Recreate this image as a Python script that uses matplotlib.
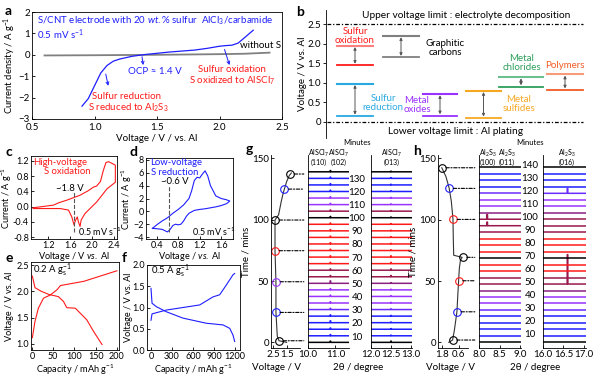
import numpy as np
import matplotlib
matplotlib.use('Agg')
import matplotlib.pyplot as plt
from matplotlib.patches import ConnectionPatch
from matplotlib.transforms import blended_transform_factory as btf

plt.rcParams['font.family'] = ['Lato', 'DejaVu Sans']
plt.rcParams['font.size'] = 7
plt.rcParams['mathtext.fontset'] = 'custom'
plt.rcParams['mathtext.rm'] = 'Lato'
plt.rcParams['mathtext.it'] = 'Lato:italic'
plt.rcParams['mathtext.bf'] = 'Lato:bold'
plt.rcParams['axes.linewidth'] = 0.6
plt.rcParams['axes.labelsize'] = 6.6
for ax_ in ('xtick', 'ytick'):
    plt.rcParams[ax_ + '.major.width'] = 0.6
    plt.rcParams[ax_ + '.major.size'] = 2
    plt.rcParams[ax_ + '.direction'] = 'in'
    plt.rcParams[ax_ + '.major.pad'] = 1.5
    plt.rcParams[ax_ + '.labelsize'] = 6.5

# ---------------- data ----------------
# (a) linear sweep
a_v = [0.9, 0.95, 1.0, 1.05, 1.1, 1.15, 1.2, 1.3, 1.4, 1.6, 1.8, 1.9, 2.0, 2.05, 2.1, 2.15, 2.2, 2.27]
a_i = [-2.4, -2.05, -1.45, -0.85, -0.5, -0.3, -0.2, -0.07, 0.01, 0.13, 0.22, 0.3, 0.4, 0.43, 0.45, 0.55, 0.8, 1.15]
a_bare_v = [0.6, 1.0, 1.5, 2.0, 2.2, 2.4]
a_bare_i = [-0.03, -0.02, 0.0, 0.03, 0.05, 0.1]

# (b) voltage windows
b_names = ['Sulfur\noxidation', 'Sulfur\nreduction', 'Graphitic\ncarbons', 'Metal\noxides',
           'Metal\nsulfides', 'Metal\nchlorides', 'Polymers']
b_upper = [1.95, 0.98, 2.2, 0.72, 0.8, 1.15, 1.22]
b_lower = [1.45, 0.15, 1.65, 0.16, 0.1, 0.9, 0.82]
b_colors = ['#FF1A1A', '#29A9E1', '#808080', '#9B30FF', '#F7A823', '#2E9E5B', '#F15A24']
b_upper_colors = ['#FF7F7F', '#29A9E1', '#808080', '#9B30FF', '#F7A823', '#6CC08E', '#F79A7A']

# (c) high-voltage CV
c_v = [0.93, 1.3, 1.39, 1.54, 1.78, 1.93, 2.02, 2.08, 2.15, 2.2, 2.25, 2.3, 2.42,
       2.42, 2.27, 2.08, 1.96, 1.87, 1.8, 1.78, 1.75, 1.73, 1.7, 1.67, 1.63, 1.57, 1.42, 1.2, 0.93]
c_i = [-0.03, 0.04, 0.1, 0.17, 0.3, 0.42, 0.51, 0.54, 0.66, 0.94, 1.16, 1.18, 1.09,
       0.64, 0.47, 0.12, -0.05, -0.18, -0.35, -0.52, -0.4, -0.27, -0.35, -0.48, -0.27, -0.09, -0.05, -0.05, -0.05]

# (d) low-voltage CV
d_v = [0.32, 0.4, 0.5, 0.6, 0.7, 0.8, 0.9, 1.0, 1.05, 1.1, 1.15, 1.2, 1.25, 1.3, 1.35, 1.4, 1.5, 1.6, 1.7, 1.76,
       1.7, 1.6, 1.5, 1.4, 1.3, 1.2, 1.1, 1.0, 0.95, 0.9, 0.85, 0.8, 0.75, 0.7, 0.65, 0.6, 0.55, 0.5, 0.45, 0.4, 0.32]
d_i = [-2.65, -2.1, -1.5, -1.0, -0.3, 0.3, 1.0, 2.0, 3.2, 4.8, 5.3, 5.2, 5.8, 6.3, 5.5, 4.0, 2.4, 2.0, 1.8, 1.6,
       1.2, 0.9, 0.7, 0.55, 0.4, 0.3, 0.15, -0.3, -0.8, -1.5, -2.0, -2.1, -2.0, -2.2, -2.8, -3.2, -3.0, -2.8, -2.75, -2.7, -2.65]

# (e) 0.2 A/g charge / discharge
e_dis_c = [0.8, 7, 22, 40, 62, 74, 82, 102, 129, 145, 165]
e_dis_v = [2.29, 2.07, 2.0, 1.94, 1.9, 1.81, 1.69, 1.68, 1.46, 1.24, 0.99]
e_chg_c = [0.8, 7, 15, 27, 43, 59, 67, 122, 200]
e_chg_v = [1.12, 1.43, 1.68, 1.87, 1.93, 2.03, 2.11, 2.19, 2.39]

# (f) 0.5 A/g charge / discharge
f_dis_c = [0, 15, 76, 219, 457, 790, 1029, 1124, 1171, 1195]
f_dis_v = [1.45, 1.1, 1.02, 0.9, 0.75, 0.63, 0.59, 0.51, 0.35, 0.2]
f_chg_c = [0, 15, 219, 695, 886, 981, 1076, 1171, 1195]
f_chg_v = [0.7, 0.85, 0.94, 1.06, 1.25, 1.3, 1.53, 1.77, 1.8]

# (g) in-situ XRD, charge to high voltage (27 scans, bottom -> top)
g_t = [0, 1.3, 5, 24.4, 49.4, 74.7, 99.7, 104, 115, 122, 124.9, 131, 136, 138]
g_v = [1.5, 2.07, 2.2, 2.3, 2.3, 2.37, 2.37, 2.1, 1.9, 1.75, 1.67, 1.5, 1.3, 1.15]
g_mark_t = [1.3, 24.4, 49.4, 74.7, 99.7, 124.9, 137.2]
g_mark_v = [2.07, 2.3, 2.3, 2.37, 2.37, 1.67, 1.24]
g_mark_c = ['k', 'b', 'p', 'r', 'k', 'b', 'k']
g_trace_c = ['k', 'b', 'b', 'b', 'b', 'v', 'p', 'p', 'p', 'q', 'm', 'm', 'r', 'r',
             'r', 'r', 'r', 'r', 'r', 'k', 'm', 'p', 'p', 'b', 'b', 'b', 'k']
g_pk1 = [1, 1, 1, 1.5, 1, 1, 1, 1, 1, 2, 1, 1, 1, 1, 1, 1, 1, 1, 1, 1, 1, 1, 1, 1, 1, 1, 1]
g_pk2 = [1, 0.5, 0.5, 0.5, 0.5, 0.5, 0.5, 0.5, 0.5, 0.5, 1, 1, 1, 1, 0.5, 0.5, 0.5, 0.5, 0.5, 0.5, 0.5, 0.5, 0.5, 0.5, 0.5, 0.5, 0.5]
minutes = [10, 20, 30, 40, 50, 60, 70, 80, 90, 100, 110, 120, 130]

# (h) in-situ XRD, discharge to low voltage (28 scans, bottom -> top)
h_t = [0, 1.9, 10, 24.9, 40, 50.2, 60, 67, 69.3, 71, 85, 100.2, 115, 125.5, 135, 142.3]
h_v = [1.3, 1.03, 0.9, 0.72, 0.65, 0.6, 0.55, 0.47, 0.35, 0.95, 0.98, 1.0, 1.12, 1.27, 1.5, 1.8]
h_mark_t = [1.9, 24.9, 50.2, 69.3, 100.2, 125.5, 142.3]
h_mark_v = [1.03, 0.72, 0.6, 0.31, 1.0, 1.27, 1.8]
h_mark_c = ['k', 'b', 'r', 'k', 'r', 'b', 'k']
h_trace_c = ['k', 'b', 'b', 'b', 'b', 'v', 'p', 'p', 'q', 'm', 'm', 'r', 'r', 'k',
             'r', 'r', 'r', 'm', 'm', 'm', 'q', 'p', 'p', 'v', 'b', 'b', 'b', 'k']
h_pk1 = [0, 0, 0, 0, 0, 0, 0, 0, 0, 0, 0, 0, 0, 0, 0, 0, 0, 0, 3, 4, 0, 0, 0, 0, 0, 0, 0, 0]
h_pk2 = [0, 0, 0, 0, 0, 0, 0, 0, 0, 24, 0, 0, 0, 0, 0, 0, 0, 0, 0, 0, 0, 0, 0, 4, 0, 0, 0, 0]
minutes_h = [10, 20, 30, 40, 50, 60, 70, 80, 90, 100, 110, 120, 130, 140]

cmap = {'k': '#000000', 'b': '#1E1EFF', 'v': '#6A2BFF', 'p': '#9933FF', 'q': '#8A2080',
        'm': '#99194D', 'r': '#FF1A1A'}

# ---------------- layout ----------------
W, H = 600, 382
fig = plt.figure(figsize=(6, 3.82), dpi=100)


def add_ax(x0, y0, x1, y1):
    return fig.add_axes([x0 / W, 1 - y1 / H, (x1 - x0) / W, (y1 - y0) / H])


def letter(x, y, s):
    fig.text(x / W, 1 - y / H, s, fontsize=10, fontweight='bold', va='center', ha='left')


def ylab_at(ax_, xpx):
    # right edge of the rotated y label at a given figure pixel column
    ax_.yaxis.set_label_coords(xpx / W, 0.5, transform=btf(fig.transFigure, ax_.transAxes))


BLUE = '#1E1EFF'
RED = '#FF1A1A'

# ---------------- (a) ----------------
ax = add_ax(32, 12, 282, 119)
ax.plot(a_bare_v, a_bare_i, color='#808080', lw=1.3)
ax.plot(a_v, a_i, color=BLUE, lw=0.9)
ax.set_xlim(0.5, 2.5)
ax.set_ylim(-3, 2)
ax.set_xticks([0.5, 1.0, 1.5, 2.0, 2.5])
ax.set_xticklabels(['0.5', '1.0', '1.5', '2.0', '2.5'])
ax.set_yticks([-3, -2, -1, 0, 1, 2])
ax.tick_params(labelsize=7)
ax.tick_params(axis='x', pad=3)
ax.set_xlabel('Voltage / V / vs. Al', labelpad=1, fontsize=7)
ax.set_ylabel('Current density / A g$^{-1}$', fontsize=6.8)
ylab_at(ax, 18)
ax.text(0.54, 1.58, 'S/CNT electrode with 20 $\\it{wt.}$% sulfur  AlCl$_3$/carbamide', color=BLUE, va='center')
ax.text(0.54, 0.95, '0.5 mV s$^{-1}$', color=BLUE, va='center')
ax.text(1.487, -0.79, 'OCP ≈ 1.4 V', color=BLUE, va='center', ha='center')
ax.text(2.16, 0.45, 'without S', color='black', va='center')
ax.text(2.1, -0.71, 'Sulfur oxidation', color=RED, ha='center', va='center')
ax.text(2.1, -1.22, 'S oxidized to AlSCl$_7$', color=RED, ha='center', va='center')
ax.text(1.26, -1.95, 'Sulfur reduction', color=RED, ha='center', va='center')
ax.text(1.27, -2.49, 'S reduced to Al$_2$S$_3$', color=RED, ha='center', va='center')
for (x0, y0, x1, y1) in [(1.09, -0.9, 1.11, -1.45), (1.38, -0.09, 1.39, -0.48), (2.04, 0.25, 2.08, -0.48)]:
    ax.annotate('', xy=(x1, y1), xytext=(x0, y0),
                arrowprops=dict(arrowstyle='->', color=BLUE, lw=0.7, shrinkA=0, shrinkB=0, mutation_scale=5))
letter(5, 11, 'a')

# ---------------- (b) ----------------
axb = add_ax(326, 10, 600, 138)
axb.set_xlim(326, 600)
axb.set_ylim(-0.41, 2.86)
for s in ('top', 'right', 'bottom'):
    axb.spines[s].set_visible(False)
axb.set_xticks([])
axb.set_yticks([0, 0.5, 1.0, 1.5, 2.0, 2.5])
axb.set_yticklabels(['0', '0.5', '1.0', '1.5', '2.0', '2.5'])
axb.tick_params(axis='y', direction='out', labelsize=7)
axb.set_ylabel('Voltage / V vs. Al', fontsize=7)
ylab_at(axb, 307)
axb.plot([327, 583], [2.5, 2.5], color='black', ls=(0, (3, 1.5, 1, 1.5)), lw=0.9)
axb.plot([327, 583], [0, 0], color='black', ls=(0, (3, 1.5, 1, 1.5)), lw=0.9)
axb.text(466, 2.73, 'Upper voltage limit : electrolyte decomposition', ha='center', va='center', fontsize=7.3)
axb.text(455, -0.25, 'Lower voltage limit : Al plating', ha='center', va='center', fontsize=7.3)
b_x0 = [337, 337, 383, 423, 466, 499, 547]
b_x1 = [373, 373, 419, 457, 501, 543, 583]
b_tx = [355, 383, 445, 417, 519, 522, 565]
b_ty = [2.2, 0.49, 1.9, 0.43, 0.45, 1.5, 1.45]
for k in range(len(b_names)):
    col = b_colors[k]
    axb.plot([b_x0[k], b_x1[k]], [b_upper[k]] * 2, color=b_upper_colors[k], lw=1.5)
    axb.plot([b_x0[k], b_x1[k]], [b_lower[k]] * 2, color=col, lw=1.3)
    xm = (b_x0[k] + b_x1[k]) / 2
    axb.annotate('', xy=(xm, b_lower[k]), xytext=(xm, b_upper[k]),
                 arrowprops=dict(arrowstyle='<|-|>', color='#555555', lw=0.7, shrinkA=1, shrinkB=1,
                                 mutation_scale=4))
    axb.text(b_tx[k], b_ty[k], b_names[k], color=col if k != 2 else 'black', ha='center', va='center',
             fontsize=7.0, linespacing=1.0)
letter(296, 12, 'b')

# ---------------- (c) ----------------
axc = add_ax(31, 156, 117, 239)
axc.plot(c_v, c_i, color=RED, lw=0.8)
axc.set_xlim(0.89, 2.45)
axc.set_ylim(-0.85, 1.33)
axc.set_xticks([1.2, 1.6, 2.0, 2.4])
axc.set_yticks([-0.8, -0.4, 0.0, 0.4, 0.8, 1.2])
axc.set_yticklabels(['-0.8', '-0.4', '0.0', '0.4', '0.8', '1.2'])
axc.plot([1.67, 1.67], [-0.67, 0.38], color='#555555', ls='--', lw=0.8)
axc.text(1.59, 0.48, '~1.8 V', ha='center', va='center', fontsize=6.8)
axc.text(0.93, 1.17, 'High-voltage', color=RED, va='center', fontsize=6.8)
axc.text(1.13, 0.91, 'S oxidation', color=RED, va='center', fontsize=6.8)
axc.text(2.13, -0.67, '0.5 mV s$^{-1}$', ha='center', va='center', fontsize=6.5)
axc.set_xlabel('Voltage / V $\\it{vs.}$ Al', labelpad=0)
axc.set_ylabel('Current / A g$^{-1}$')
ylab_at(axc, 14)
letter(5, 152, 'c')

# ---------------- (d) ----------------
axd = add_ax(146, 158, 233, 239)
axd.plot(d_v, d_i, color=BLUE, lw=0.8)
axd.set_xlim(0.2, 1.82)
axd.set_ylim(-4.3, 8.3)
axd.set_xticks([0.4, 0.8, 1.2, 1.6])
axd.set_yticks([-4, -2, 0, 2, 4, 6, 8])
axd.plot([0.62, 0.62], [-3.2, 4.0], color='#555555', ls='--', lw=0.8)
axd.text(0.73, 4.6, '~0.6 V', ha='center', va='center', fontsize=6.8)
axd.text(0.27, 7.6, 'Low-voltage', color=BLUE, va='center', fontsize=6.8)
axd.text(0.3, 6.0, 'S reduction', color=BLUE, va='center', fontsize=6.8)
axd.text(1.46, -3.2, '0.5 mV s$^{-1}$', ha='center', va='center', fontsize=6.5)
axd.set_xlabel('Voltage / $\\it{vs.}$ Al', labelpad=0)
axd.set_ylabel('Current / A g$^{-1}$')
ylab_at(axd, 134)
letter(130, 152, 'd')

# ---------------- (e) ----------------
axe = add_ax(31, 262, 119, 350)
axe.plot(e_dis_c, e_dis_v, color=RED, lw=0.8)
axe.plot(e_chg_c, e_chg_v, color=RED, lw=0.8)
axe.set_xlim(-2.4, 205)
axe.set_ylim(0.886, 2.557)
axe.set_xticks([0, 50, 100, 150, 200])
axe.set_yticks([1.0, 1.5, 2.0, 2.5])
axe.text(2, 2.4, '0.2 A g$^{-1}_{\\rm s}$', va='center', fontsize=6.8)
axe.set_xlabel('Capacity / mAh g$^{-1}$', labelpad=1)
axe.set_ylabel('Voltage / V vs. Al')
ylab_at(axe, 14)
letter(5, 258, 'e')

# ---------------- (f) ----------------
axf = add_ax(147, 265, 240, 350)
axf.plot(f_dis_c, f_dis_v, color=BLUE, lw=0.8)
axf.plot(f_chg_c, f_chg_v, color=BLUE, lw=0.8)
axf.set_xlim(-57, 1271)
axf.set_ylim(0, 2.0)
axf.set_xticks([0, 300, 600, 900, 1200])
axf.set_yticks([0.0, 0.5, 1.0, 1.5, 2.0])
axf.text(0, 1.86, '0.5 A g$^{-1}_{\\rm s}$', va='center', fontsize=6.8)
axf.set_xlabel('Capacity / mAh g$^{-1}$', labelpad=1)
axf.set_ylabel('Voltage / V vs. Al')
ylab_at(axf, 133)
letter(122, 258, 'f')


# ---------------- (g) & (h) ----------------
def insitu(tx0, tx1, vlim, vt, tt, tv, mt, mv, mc, xr1, xr2, lim1, lim2, ticks1, ticks2,
           tr_c, tr_top, pk1, pk1x, pk2, pk2x, mins, lab_a, lab_b, minx, labels1, labels2, xl_center):
    y0, y1 = 155, 348
    ylim = (-4.6, 152.7)
    at = add_ax(tx0, y0, tx1, y1)
    at.plot(tv, tt, color='#333333', lw=0.8)
    for t_, v_, c_ in zip(mt, mv, mc):
        at.plot(v_, t_, 'o', ms=5.5, mfc='none', mec=cmap[c_], mew=0.8)
    at.set_xlim(*vlim)
    at.set_ylim(*ylim)
    at.set_xticks(vt)
    at.set_yticks([0, 50, 100, 150])
    at.tick_params(labelsize=7)
    at.spines['top'].set_visible(False)
    at.spines['right'].set_visible(False)
    at.set_ylabel('Time / mins', labelpad=1, fontsize=7)
    fig.text(xl_center[0] / W, 1 - 368 / H, 'Voltage / V', ha='center', va='center')
    axes_x = []
    n = len(tr_c)
    spacing = tr_top / (n - 1)
    for (x0, x1), lim, ticks, pk, pkx in [(xr1, lim1, ticks1, pk1, pk1x), (xr2, lim2, ticks2, pk2, pk2x)]:
        ax_ = add_ax(x0, y0, x1, y1)
        ax_.set_xlim(*lim)
        ax_.set_ylim(*ylim)
        ax_.set_yticks([])
        ax_.set_xticks(ticks)
        ax_.set_xticklabels([f'{v:.1f}' for v in ticks])
        ax_.tick_params(labelsize=7)
        ax_.spines['top'].set_visible(False)
        ax_.spines['right'].set_visible(False)
        xs = np.linspace(lim[0], lim[1], 300)
        for i in range(n):
            base = i * spacing
            prof = np.where(np.abs(xs - pkx) < (lim[1] - lim[0]) / 150, pk[i], 0.0)
            ax_.plot(xs, base + prof, color=cmap[tr_c[i]], lw=1.1)
        axes_x.append(ax_)
    for t_, v_ in zip(mt, mv):
        con = ConnectionPatch(xyA=(v_, t_), coordsA=at.transData,
                              xyB=(lim1[0], t_), coordsB=axes_x[0].transData,
                              ls=(0, (3, 1.5, 1, 1.5)), lw=0.8, color='black', shrinkA=3, shrinkB=3)
        fig.add_artist(con)
    tr = btf(fig.transFigure, axes_x[0].transData)
    for m in mins:
        axes_x[0].text(minx / W, lab_a + (m - 10) * lab_b, str(m), transform=tr, ha='center', va='center',
                       clip_on=False, fontsize=7)
    fig.text(minx / W, 1 - 142.5 / H, 'Minutes', ha='center', va='center', fontsize=5.5)
    fig.text(xl_center[1] / W, 1 - 368 / H, '2θ / degree', ha='center', va='center')
    for (x, s) in labels1 + labels2:
        fig.text(x / W, 1 - 157 / H, s, ha='center', va='center', fontsize=5, linespacing=1.1)
    return at


insitu(271, 300, (2.67, 0.5), [2.5, 1.5], g_t, g_v, g_mark_t, g_mark_v, g_mark_c,
       (308, 349), (371, 412), (10.0, 11.5), (12.0, 13.03), [10.0, 11.0], [12.0, 12.5, 13.0],
       g_trace_c, 139.0, g_pk1, 10.82, g_pk2, 12.5, minutes, 4.3, 1.0725, 357,
       [(318.5, 'AlSCl$_7$\n(110)'), (339, 'AlSCl$_7$\n(102)')], [(392, 'AlSCl$_7$\n(013)')], (277, 358))
letter(246, 149, 'g')

insitu(438, 468, (2.07, -0.07), [1.8, 0.6], h_t, h_v, h_mark_t, h_mark_v, h_mark_c,
       (479, 521), (543, 586), (8.0, 9.02), (16.0, 17.05), [8.0, 8.5, 9.0], [16.0, 16.5, 17.0],
       h_trace_c, 142.6, h_pk1, 8.2, h_pk2, 16.6, minutes_h, 6.6, 1.056, 530,
       [(488, 'Al$_2$S$_3$\n(100)'), (507, 'Al$_2$S$_3$\n(011)')], [(566.7, 'Al$_2$S$_3$\n(016)')], (450, 535))
letter(413, 151, 'h')

fig.savefig('out.png', dpi=100)
